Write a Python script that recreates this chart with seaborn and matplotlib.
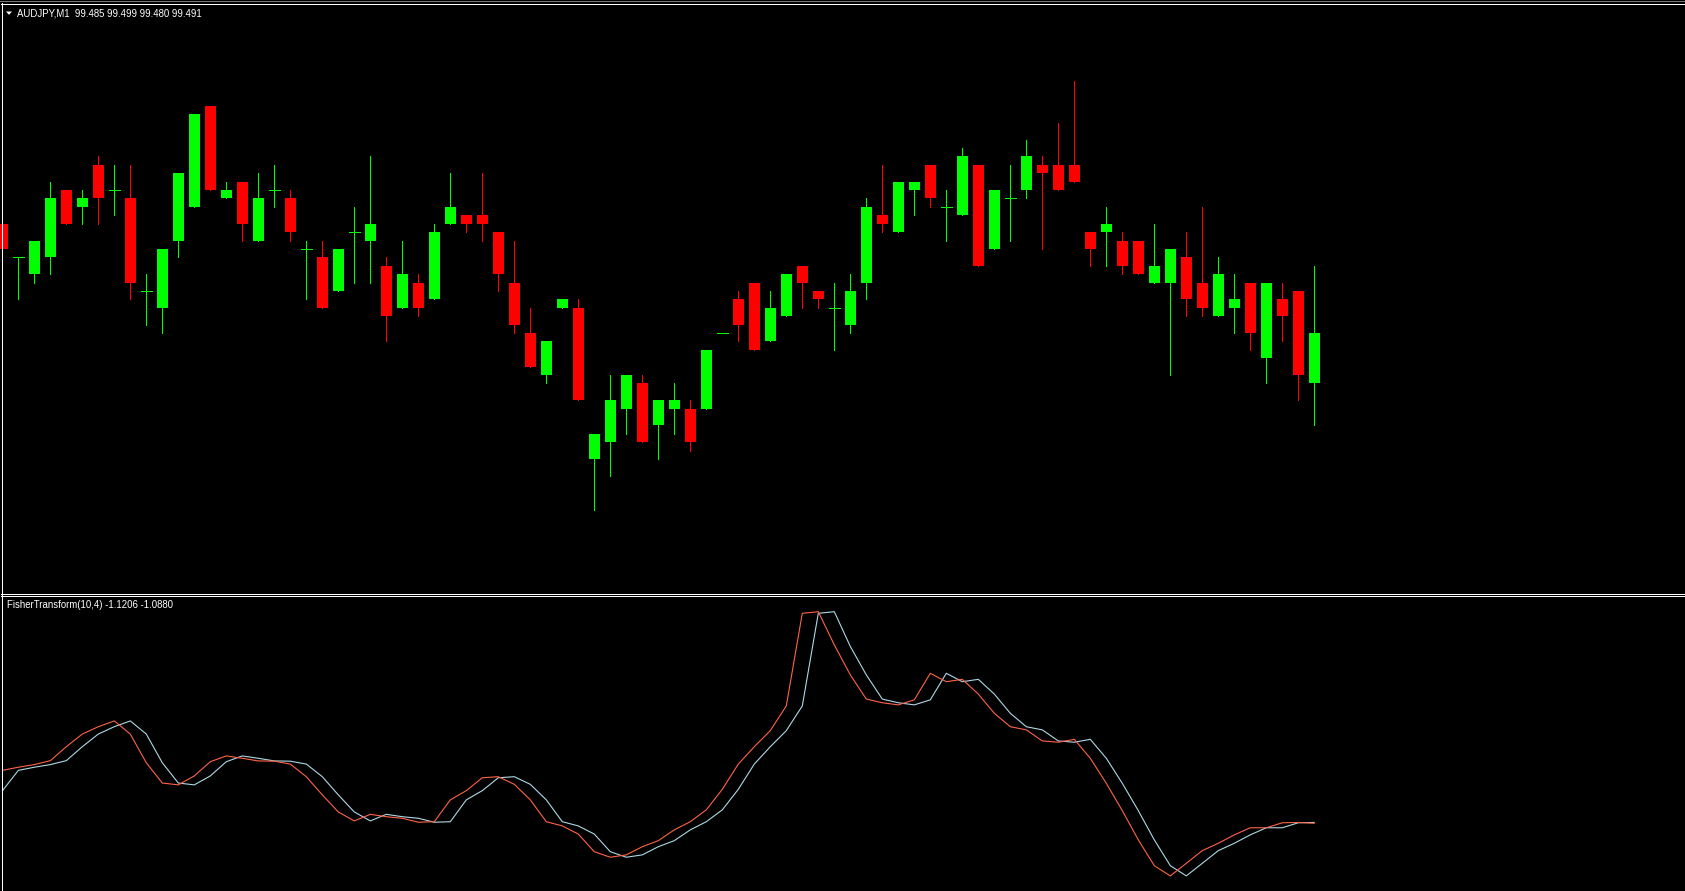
import matplotlib
matplotlib.use("Agg")
import matplotlib.pyplot as plt
from matplotlib.patches import Polygon
import numpy as np
import pandas as pd
import seaborn as sns

# ---------------- data ----------------
symbol_title = "AUDJPY,M1  99.485 99.499 99.480 99.491"
indicator_title = "FisherTransform(10,4) -1.1206 -1.0880"

opens = [99.504, 99.500, 99.498, 99.500, 99.508, 99.506, 99.511, 99.508, 99.507, 99.496,
         99.494, 99.502, 99.506, 99.518, 99.507, 99.509, 99.502, 99.508, 99.507, 99.501,
         99.500, 99.496, 99.503, 99.502, 99.499, 99.494, 99.497, 99.495, 99.504, 99.505,
         99.505, 99.503, 99.497, 99.491, 99.486, 99.494, 99.494, 99.476, 99.478, 99.482,
         99.485, 99.480, 99.482, 99.482, 99.482, 99.491, 99.495, 99.497, 99.490, 99.493,
         99.499, 99.496, 99.494, 99.492, 99.497, 99.505, 99.503, 99.508, 99.511, 99.506,
         99.505, 99.511, 99.501, 99.507, 99.508, 99.511, 99.511, 99.511, 99.503, 99.503,
         99.502, 99.502, 99.497, 99.497, 99.500, 99.497, 99.493, 99.494, 99.497, 99.488,
         99.495, 99.496, 99.485]
highs = [99.507, 99.500, 99.502, 99.509, 99.508, 99.508, 99.512, 99.511, 99.511, 99.498,
         99.501, 99.510, 99.517, 99.518, 99.509, 99.509, 99.510, 99.511, 99.508, 99.502,
         99.502, 99.501, 99.506, 99.512, 99.500, 99.502, 99.498, 99.504, 99.510, 99.505,
         99.510, 99.503, 99.502, 99.494, 99.490, 99.495, 99.495, 99.479, 99.486, 99.486,
         99.486, 99.483, 99.485, 99.483, 99.489, 99.491, 99.496, 99.497, 99.496, 99.498,
         99.499, 99.496, 99.497, 99.498, 99.507, 99.511, 99.509, 99.509, 99.511, 99.508,
         99.513, 99.511, 99.508, 99.511, 99.514, 99.512, 99.516, 99.521, 99.503, 99.506,
         99.503, 99.502, 99.504, 99.501, 99.503, 99.506, 99.500, 99.498, 99.497, 99.497,
         99.497, 99.496, 99.499]
lows = [99.501, 99.495, 99.497, 99.498, 99.504, 99.504, 99.504, 99.505, 99.495, 99.492,
        99.491, 99.500, 99.506, 99.508, 99.507, 99.502, 99.502, 99.506, 99.502, 99.495,
        99.494, 99.496, 99.497, 99.497, 99.490, 99.494, 99.493, 99.495, 99.504, 99.503,
        99.502, 99.496, 99.491, 99.487, 99.485, 99.494, 99.483, 99.470, 99.474, 99.479,
        99.478, 99.476, 99.479, 99.477, 99.482, 99.491, 99.490, 99.489, 99.490, 99.493,
        99.494, 99.494, 99.489, 99.491, 99.495, 99.503, 99.503, 99.505, 99.506, 99.502,
        99.505, 99.499, 99.501, 99.502, 99.507, 99.501, 99.508, 99.509, 99.499, 99.499,
        99.498, 99.498, 99.497, 99.486, 99.493, 99.493, 99.493, 99.491, 99.489, 99.485,
        99.490, 99.483, 99.480]
closes = [99.501, 99.500, 99.502, 99.507, 99.504, 99.507, 99.507, 99.508, 99.497, 99.496,
          99.501, 99.510, 99.517, 99.508, 99.508, 99.504, 99.507, 99.508, 99.503, 99.501,
          99.494, 99.501, 99.503, 99.504, 99.493, 99.498, 99.494, 99.503, 99.506, 99.504,
          99.504, 99.498, 99.492, 99.487, 99.490, 99.495, 99.483, 99.479, 99.483, 99.486,
          99.478, 99.483, 99.483, 99.478, 99.489, 99.491, 99.492, 99.489, 99.494, 99.498,
          99.497, 99.495, 99.494, 99.496, 99.506, 99.504, 99.509, 99.509, 99.507, 99.506,
          99.512, 99.499, 99.508, 99.507, 99.512, 99.510, 99.508, 99.509, 99.501, 99.504,
          99.499, 99.498, 99.499, 99.501, 99.495, 99.494, 99.498, 99.495, 99.491, 99.497,
          99.493, 99.486, 99.491]

fisher = [0.89, 1.01, 1.11, 1.26, 1.79, 2.27, 2.55, 2.77, 2.27, 1.18,
          0.41, 0.34, 0.68, 1.22, 1.44, 1.35, 1.25, 1.24, 1.13, 0.65,
          -0.04, -0.69, -1.03, -0.78, -0.87, -0.93, -1.08, -1.06, -0.23, 0.12,
          0.61, 0.65, 0.36, -0.23, -1.06, -1.22, -1.53, -2.20, -2.41, -2.32,
          -2.01, -1.78, -1.37, -1.06, -0.61, 0.17, 1.13, 1.79, 2.40, 3.34,
          6.86, 6.92, 5.66, 4.52, 3.60, 3.46, 3.38, 3.57, 4.58, 4.26,
          4.35, 3.79, 3.06, 2.55, 2.43, 2.01, 1.96, 2.07, 1.35, 0.40,
          -0.64, -1.75, -2.73, -3.12, -2.64, -2.16, -1.88, -1.56, -1.29, -1.29,
          -1.10, -1.088, -1.1206]
signal = [0.11, 0.89, 1.01, 1.11, 1.26, 1.79, 2.27, 2.55, 2.77, 2.27,
          1.18, 0.41, 0.34, 0.68, 1.22, 1.44, 1.35, 1.25, 1.24, 1.13,
          0.65, -0.04, -0.69, -1.03, -0.78, -0.87, -0.93, -1.08, -1.06, -0.23,
          0.12, 0.61, 0.65, 0.36, -0.23, -1.06, -1.22, -1.53, -2.20, -2.41,
          -2.32, -2.01, -1.78, -1.37, -1.06, -0.61, 0.17, 1.13, 1.79, 2.40,
          3.34, 6.86, 6.92, 5.60, 4.52, 3.60, 3.46, 3.38, 3.57, 4.58,
          4.26, 4.35, 3.79, 3.06, 2.55, 2.43, 2.01, 1.96, 2.07, 1.35,
          0.40, -0.64, -1.75, -2.73, -3.12, -2.64, -2.16, -1.88, -1.56, -1.29,
          -1.29, -1.10, -1.088]

bars = np.arange(len(opens))
df = pd.DataFrame({"bar": bars, "open": opens, "high": highs, "low": lows, "close": closes,
                   "fisher": fisher, "signal": signal})

# ---------------- style ----------------
sns.set_style("dark", {"axes.facecolor": "black", "figure.facecolor": "black"})
plt.rcParams["font.family"] = ["Liberation Sans", "DejaVu Sans"]

W, H = 1685, 891
PX = 0.72  # one pixel in points at dpi 100
fig = plt.figure(figsize=(W / 100, H / 100), dpi=100, facecolor="black")


def pixel_axes(x0, y0, x1, y1):
    return fig.add_axes([x0 / W, 1 - y1 / H, (x1 - x0) / W, (y1 - y0) / H])


BAR_X0, BAR_STEP = 2.3, 16.0
xlim = ((0 - BAR_X0) / BAR_STEP, (W - BAR_X0) / BAR_STEP)
body_w = 11 / BAR_STEP

# ---------------- price pane ----------------
P_TOP, P_BOT = 4, 593
REF_Y, REF_P, PPP = 333.0, 99.491, 8407.0
ax1 = pixel_axes(0, P_TOP, W, P_BOT)
ax1.set_xlim(*xlim)
ax1.set_ylim(REF_P - (P_BOT - REF_Y) / PPP, REF_P + (REF_Y - P_TOP) / PPP)
ax1.axis("off")

up = df["close"] > df["open"]
dn = df["close"] < df["open"]
eq = df["close"] == df["open"]
GREEN, RED = "#00FF00", "#FF0000"
col = np.where(df["close"] >= df["open"], GREEN, RED)

ax1.vlines(df["bar"], df["low"], df["high"], colors=col, lw=PX, antialiased=False, zorder=2)
for mask, c in ((up, GREEN), (dn, RED)):
    sub = df[mask]
    ax1.bar(sub["bar"], (sub["close"] - sub["open"]).abs(),
            bottom=np.minimum(sub["open"], sub["close"]),
            width=body_w, color=c, linewidth=0, antialiased=False, zorder=3)
sub = df[eq]
ax1.hlines(sub["close"], sub["bar"] - body_w / 2, sub["bar"] + body_w / 2,
           colors=GREEN, lw=PX, antialiased=False, zorder=3)

# ---------------- indicator pane ----------------
F_TOP, F_BOT = 596, H
F_REF_Y, F_REF_V, F_SCALE = 823.3, -1.1206, 0.038
ax2 = pixel_axes(0, F_TOP, W, F_BOT)
ax2.set_xlim(*xlim)
ax2.set_ylim(F_REF_V - (F_BOT - F_REF_Y) * F_SCALE, F_REF_V + (F_REF_Y - F_TOP) * F_SCALE)
sns.lineplot(data=df, x="bar", y="signal", ax=ax2, color="#ADD8E6", lw=0.8,
             antialiased=True, legend=False)
sns.lineplot(data=df, x="bar", y="fisher", ax=ax2, color="#FF6347", lw=0.8,
             antialiased=True, legend=False)
ax2.axis("off")

# ---------------- frame, separators and labels ----------------
ov = fig.add_axes([0, 0, 1, 1])
ov.set_xlim(0, W)
ov.set_ylim(H, 0)
ov.axis("off")
ov.patch.set_alpha(0)
ov.hlines([0.5], 0, W, colors="#7a7a7a", lw=PX, antialiased=False)
ov.hlines([3.5, 593.5, 595.5], 1, W, colors="white", lw=PX, antialiased=False)
ov.vlines([1.5], 3, 594, colors="white", lw=PX, antialiased=False)
ov.vlines([1.5], 595, H, colors="white", lw=PX, antialiased=False)
ov.add_patch(Polygon([(6, 11.5), (12, 11.5), (9, 14.8)], closed=True, color="white", lw=0))
ov.text(17.3, 16.8, symbol_title, color="white", fontsize=6.95, va="baseline", ha="left")
ov.text(6.7, 608.0, indicator_title, color="white", fontsize=6.95, va="baseline", ha="left")

fig.savefig("out.png", dpi=100, facecolor="black")
